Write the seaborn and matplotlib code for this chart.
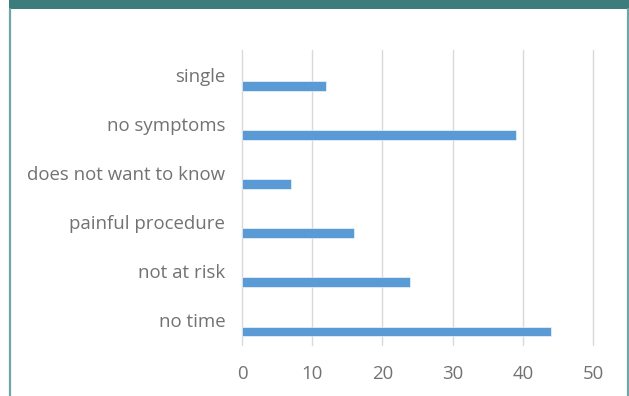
import matplotlib
matplotlib.use("Agg")
import matplotlib.pyplot as plt
import seaborn as sns
import pandas as pd
import numpy as np
from matplotlib.patches import Rectangle
from matplotlib.lines import Line2D

# Reasons given for not being screened
reasons = ["single", "no symptoms", "does not want to know",
           "painful procedure", "not at risk", "no time"]
counts = [12, 39, 7, 16, 24, 44]
x_ticks = [0, 10, 20, 30, 40, 50]

df = pd.DataFrame({"reason": reasons, "count": counts})

sns.set_theme(style="white")
plt.rcParams["font.family"] = ["Open Sans", "DejaVu Sans"]

text_grey = "#727272"
bar_blue = "#5b9bd5"
teal = "#3c7d7c"
teal_light = "#6fa6a6"

fig = plt.figure(figsize=(6.29, 3.96), dpi=100)
fig.patch.set_facecolor("white")

# Header band and panel border
fig.add_artist(Rectangle((9 / 629, 1 - 9 / 396), 1, 9 / 396,
                         transform=fig.transFigure, facecolor=teal,
                         edgecolor="none", zorder=0))
fig.add_artist(Line2D([9.5 / 629, 9.5 / 629], [0, 1 - 9 / 396],
                      transform=fig.transFigure, color=teal_light, lw=1.6))
fig.add_artist(Line2D([627.5 / 629, 627.5 / 629], [0, 1 - 9 / 396],
                      transform=fig.transFigure, color=teal_light, lw=1.6))

ax = fig.add_axes([242 / 629, 1 - 345 / 396, (593 - 242) / 629, (345 - 50) / 396])

sns.barplot(data=df, x="count", y="reason", order=reasons, orient="h",
            color=bar_blue, width=0.2, saturation=1, ax=ax,
            edgecolor="white", linewidth=0.4)

# Bars sit in the lower part of each category band; labels at band centre
offset = 0.225
ax.set_ylim(5.5 - offset, -0.5 - offset)
ax.set_yticks(np.arange(len(reasons)) - offset, reasons)
ax.set_xlim(0, 50)
ax.set_xticks(x_ticks, [str(t) for t in x_ticks])

ax.xaxis.grid(True, color="#d9d9d9", lw=1.0)
for gl in ax.get_xgridlines():
    gl.set_clip_on(False)
ax.yaxis.grid(False)
ax.set_axisbelow(True)
for s in ax.spines.values():
    s.set_visible(False)

ax.set_xlabel("")
ax.set_ylabel("")
ax.tick_params(axis="y", length=0, pad=12, labelsize=13.4, labelcolor=text_grey)
ax.tick_params(axis="x", length=0, pad=14.5, labelsize=13.4, labelcolor=text_grey)

fig.savefig("out.png", dpi=100, facecolor="white")
